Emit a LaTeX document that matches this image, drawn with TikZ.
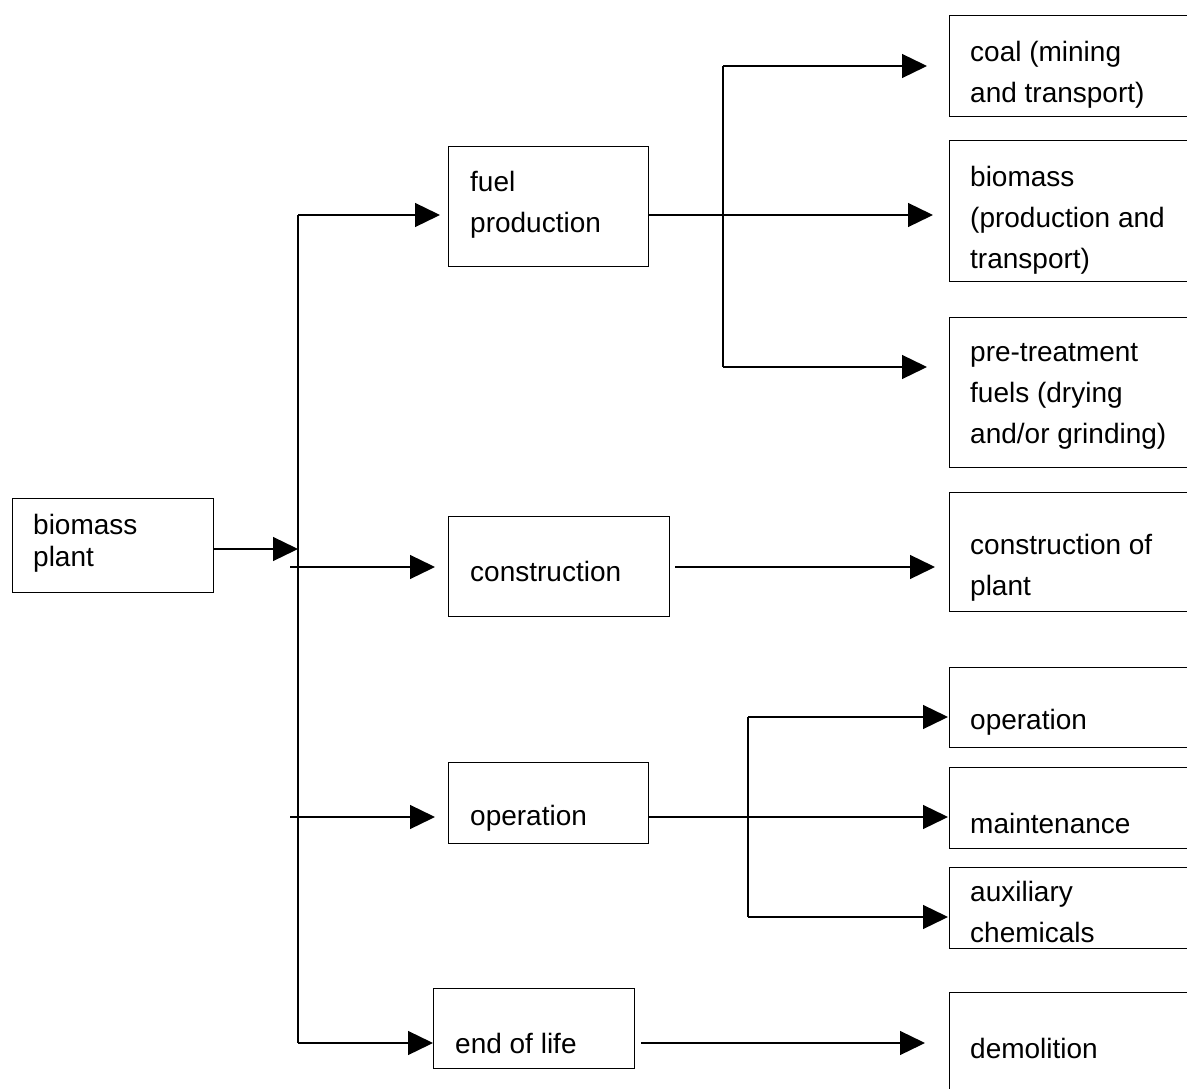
\documentclass[tikz,border=0pt]{standalone}
\usepackage{fontspec}
\setmainfont{Liberation Sans}
\usetikzlibrary{arrows.meta}
\begin{document}
\begin{tikzpicture}[x=1pt,y=-1pt,
  box/.style={draw, line width=1.3pt, inner sep=0pt, anchor=north west},
  lbl/.style={anchor=west, align=left, inner sep=0pt, font=\fontsize{28}{41}\selectfont},
  arr/.style={line width=1.3pt, -{Triangle[length=25pt,width=24pt]}},
  ln/.style={line width=1.3pt}]
\useasboundingbox (0,0) rectangle (1187,1089);
\clip (0,0) rectangle (1187,1089);
% boxes
\node[box, minimum width=201pt, minimum height=94pt] (bp) at (12,498) {};
\node[box, minimum width=200pt, minimum height=120pt] (fuel) at (448,146) {};
\node[box, minimum width=221pt, minimum height=100pt] (cons) at (448,516) {};
\node[box, minimum width=200pt, minimum height=81pt] (oper) at (448,762) {};
\node[box, minimum width=201pt, minimum height=80pt] (eol) at (433,988) {};
\node[box, minimum width=260pt, minimum height=101pt] (coal) at (949,15) {};
\node[box, minimum width=260pt, minimum height=141pt] (bio) at (949,140) {};
\node[box, minimum width=260pt, minimum height=150pt] (pre) at (949,317) {};
\node[box, minimum width=260pt, minimum height=119pt] (cplant) at (949,492) {};
\node[box, minimum width=260pt, minimum height=80pt] (ropr) at (949,667) {};
\node[box, minimum width=260pt, minimum height=81pt] (maint) at (949,767) {};
\node[box, minimum width=260pt, minimum height=81pt] (aux) at (949,867) {};
\node[box, minimum width=260pt, minimum height=120pt] (demo) at (949,992) {};
% labels
\node[lbl, font=\fontsize{28}{32}\selectfont] (tbp) at (33,543) {biomass\\plant};
\node[lbl] (tfuel) at (470,205) {fuel\\production};
\node[lbl] (tcons) at (470,571) {construction};
\node[lbl] (toper) at (470,818) {operation};
\node[lbl] (teol) at (455,1043) {end of life};
\node[lbl] (tcoal) at (970,74.5) {coal (mining\\and transport)};
\node[lbl] (tbio) at (970,220) {biomass\\(production and\\transport)};
\node[lbl] (tpre) at (970,396) {pre-treatment\\fuels (drying\\and/or grinding)};
\node[lbl] (tcplant) at (970,568) {construction of\\plant};
\node[lbl] (tropr) at (970,722) {operation};
\node[lbl] (tmaint) at (970,823) {maintenance};
\node[lbl] (taux) at (970,912) {auxiliary\\chemicals};
\node[lbl] (tdemo) at (970,1048) {demolition};
% trunk
\coordinate (tt) at (298,215);
\coordinate (tb) at (298,1043);
\coordinate (c1) at (290,567);
\coordinate (o1) at (290,817);
\draw[ln] (tt) -- (tb);
\draw[arr] (bp.east |- 0,549) -- (298,549);
\draw[arr, shorten >=8pt] (tt) -- (tt -| fuel.west);
\draw[arr, shorten >=13pt] (c1) -- (c1 -| cons.west);
\draw[arr, shorten >=13pt] (o1) -- (o1 -| oper.west);
\draw[arr] (tb) -- (tb -| eol.west);
% fuel production outputs
\coordinate (fs) at (648,215);
\coordinate (fa) at (723,66);
\coordinate (fb) at (723,367);
\draw[arr, shorten >=16pt] (fs) -- (fs -| bio.west);
\draw[ln] (fa) -- (fb);
\draw[arr, shorten >=22pt] (fa) -- (fa -| coal.west);
\draw[arr, shorten >=22pt] (fb) -- (fb -| pre.west);
% construction output
\coordinate (co) at (675,567);
\draw[arr, shorten >=14pt] (co) -- (co -| cplant.west);
% operation outputs
\coordinate (oo) at (648,817);
\coordinate (oa) at (748,717);
\coordinate (ob) at (748,917);
\draw[arr, shorten >=1pt] (oo) -- (oo -| maint.west);
\draw[ln] (oa) -- (ob);
\draw[arr, shorten >=1pt] (oa) -- (oa -| ropr.west);
\draw[arr, shorten >=1pt] (ob) -- (ob -| aux.west);
% end of life output
\coordinate (eo) at (641,1043);
\draw[arr, shorten >=24pt] (eo) -- (eo -| demo.west);
\end{tikzpicture}
\end{document}
